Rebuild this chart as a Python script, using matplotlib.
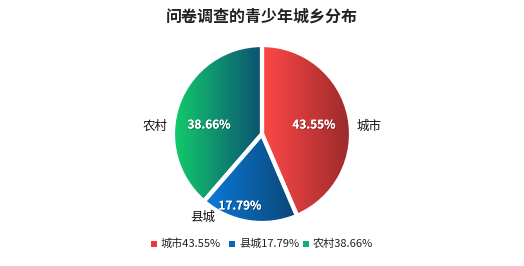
import numpy as np
import matplotlib
matplotlib.use('Agg')
import matplotlib.pyplot as plt
from matplotlib.patches import Wedge, Rectangle
from matplotlib.colors import LinearSegmentedColormap
import matplotlib.patheffects as pe

plt.rcParams['font.family'] = ['Noto Sans CJK SC', 'DejaVu Sans']

title = '问卷调查的青少年城乡分布'
categories = ['城市', '县城', '农村']
values = [43.55, 17.79, 38.66]
# gradient colours per slice: left -> right
grad_colors = [('#ff4848', '#9b2a2b'), ('#0a7bd8', '#0b4576'), ('#13cc6c', '#0b5272')]
legend_colors = ['#e8383b', '#0a66b8', '#12b06e']

# layout in pixels (y downwards)
cx, cy, R = 262, 134, 89
name_pos = [(369, 126), (203, 217), (155, 126)]
pct_pos = [(314, 125), (240, 206), (209, 125)]

fig = plt.figure(figsize=(5.24, 2.66), dpi=100)
ax = fig.add_axes([0, 0, 1, 1])
ax.set_xlim(0, 524)
ax.set_ylim(266, 0)
ax.axis('off')

start = 90.0
total = sum(values)
for i, v in enumerate(values):
    sweep = v / total * 360
    # screen y is flipped, so angles go the other way
    a1, a2 = -start, -start + sweep
    w = Wedge((cx, cy), R, a1, a2, facecolor='none', edgecolor='white', lw=3, zorder=3)
    ax.add_patch(w)
    bb = w.get_path().get_extents()
    cmap = LinearSegmentedColormap.from_list('g%d' % i, grad_colors[i])
    grad = np.linspace(0, 1, 256).reshape(1, -1)
    im = ax.imshow(grad, cmap=cmap, extent=[bb.x0, bb.x1, bb.y1, bb.y0],
                   aspect='auto', zorder=2, interpolation='bilinear')
    clip = Wedge((cx, cy), R, a1, a2, transform=ax.transData)
    im.set_clip_path(clip)
    start -= sweep

    ax.text(pct_pos[i][0], pct_pos[i][1], '%.2f%%' % v, color='white', fontsize=8.5,
            fontweight='bold', ha='center', va='center', zorder=5,
            path_effects=[pe.withSimplePatchShadow(offset=(0.6, -0.6), shadow_rgbFace='black', alpha=0.35),
                          pe.Normal()])
    ax.text(name_pos[i][0], name_pos[i][1], categories[i], color='#111111', fontsize=9,
            ha='center', va='center', zorder=5)

ax.set_xlim(0, 524)
ax.set_ylim(266, 0)

ax.text(262, 17, title, fontsize=11.5, fontweight='bold', color='#222222',
        ha='center', va='center')

# legend
lx = [151, 229, 303]
for i, c in enumerate(categories):
    ax.add_patch(Rectangle((lx[i], 241), 6, 6, facecolor=legend_colors[i], edgecolor='none'))
    ax.text(lx[i] + 10, 244, '%s%.2f%%' % (c, values[i]), fontsize=8, color='#222222',
            ha='left', va='center')

fig.savefig('out.png', dpi=100)
